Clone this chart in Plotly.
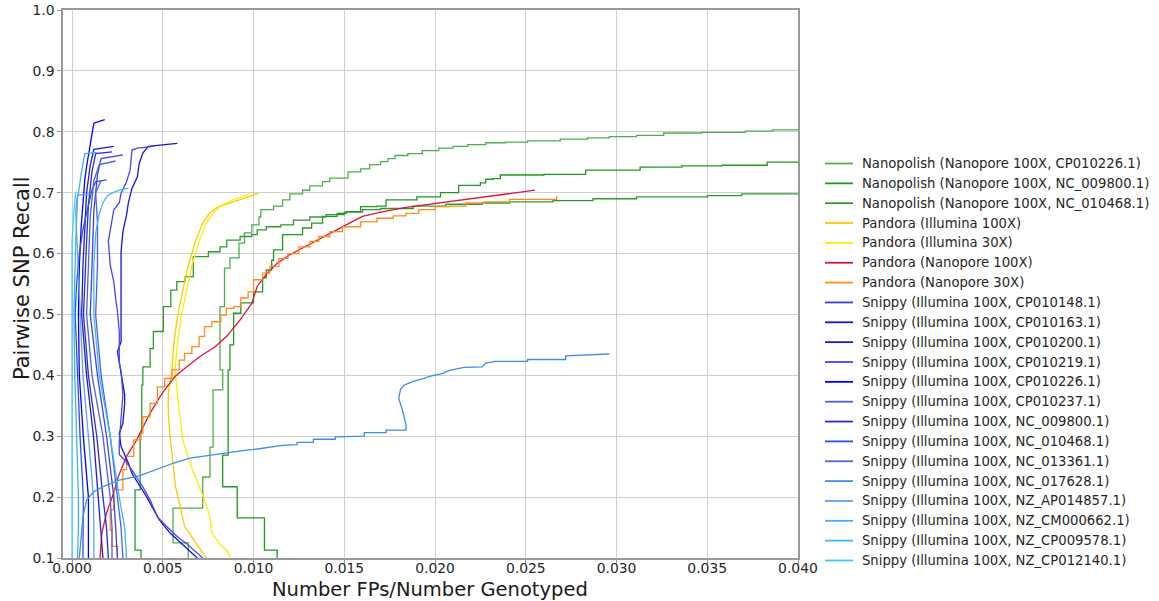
import plotly.graph_objects as go

# ---------------- data ----------------
# Nanopolish
nano_cp010226_x = [0.0402,0.0386,0.0371,0.0347,0.0326,0.0311,0.0296,0.0284,0.0269,0.0251,0.0239,0.0228,0.0218,0.0210,0.0202,0.0193,0.0185,0.0178,0.0174,0.0170,0.0164,0.0159,0.0152,0.0142,0.0138,0.0131,0.0127,0.0120,0.0116,0.0111,0.0104,0.0103,0.0099,0.0095,0.0092,0.0087,0.0084,0.00815,0.0083,0.00777,0.0076,0.0072,0.00556,0.0064]
nano_cp010226_y = [0.803,0.801,0.799,0.798,0.794,0.792,0.790,0.788,0.785,0.783,0.782,0.779,0.776,0.773,0.769,0.764,0.761,0.756,0.751,0.746,0.739,0.734,0.724,0.718,0.711,0.704,0.698,0.688,0.678,0.672,0.660,0.647,0.634,0.617,0.593,0.576,0.513,0.409,0.376,0.282,0.233,0.182,0.125,0.100]

nano_nc009800_x = [0.0402,0.0383,0.0358,0.0336,0.0313,0.0283,0.0260,0.0236,0.0232,0.0228,0.0225,0.0213,0.0203,0.0190,0.0173,0.0168,0.0159,0.0151,0.0146,0.0138,0.0132,0.0127,0.0116,0.0111,0.0110,0.0107,0.0105,0.0100,0.0093,0.0089,0.0087,0.0086,0.0083,0.0091,0.0106,0.0113]
nano_nc009800_y = [0.750,0.745,0.744,0.742,0.737,0.730,0.729,0.723,0.722,0.716,0.712,0.700,0.693,0.688,0.678,0.677,0.669,0.666,0.661,0.650,0.642,0.631,0.606,0.589,0.573,0.560,0.537,0.519,0.502,0.450,0.409,0.269,0.217,0.166,0.113,0.100]

nano_nc010468_x = [0.0402,0.0369,0.0350,0.0311,0.0287,0.0265,0.0241,0.0226,0.0206,0.0188,0.0170,0.0160,0.0150,0.0140,0.0131,0.0122,0.0115,0.0107,0.0102,0.0099,0.00926,0.00852,0.00815,0.00751,0.00668,0.00623,0.00577,0.00544,0.00503,0.00448,0.0043,0.0039,0.00384,0.00375,0.00347,0.0038]
nano_nc010468_y = [0.698,0.695,0.693,0.690,0.687,0.685,0.683,0.681,0.678,0.674,0.672,0.668,0.664,0.660,0.655,0.647,0.644,0.639,0.631,0.628,0.622,0.611,0.603,0.595,0.562,0.554,0.540,0.513,0.472,0.444,0.414,0.384,0.305,0.212,0.113,0.100]

# Pandora
pan_ill100_x = [0.01027,0.0094,0.0086,0.0080,0.0076,0.0072,0.0068,0.0064,0.0061,0.0058,0.0056,0.0055,0.0053,0.0053,0.0054,0.0055,0.0057,0.0060,0.0062,0.0067,0.0071,0.0074]
pan_ill100_y = [0.699,0.690,0.683,0.676,0.667,0.650,0.620,0.580,0.540,0.495,0.450,0.409,0.370,0.338,0.300,0.272,0.217,0.179,0.152,0.130,0.113,0.100]

pan_ill30_x = [0.0098,0.0090,0.0083,0.0078,0.0074,0.0070,0.0066,0.0063,0.0060,0.0058,0.00567,0.00586,0.0061,0.0065,0.0070,0.0073,0.0076,0.0077,0.0081,0.0086,0.0087]
pan_ill30_y = [0.698,0.690,0.680,0.668,0.650,0.620,0.580,0.540,0.495,0.450,0.409,0.354,0.294,0.256,0.217,0.195,0.168,0.141,0.124,0.110,0.100]

pan_nan100_x = [0.0255,0.0240,0.0225,0.0210,0.0197,0.0184,0.0170,0.0160,0.0151,0.0142,0.0135,0.0128,0.0120,0.0113,0.0107,0.0102,0.0099,0.00926,0.00852,0.00788,0.00705,0.00632,0.00567,0.0051,0.00485,0.0043,0.00356,0.0030,0.00255,0.00228,0.0019,0.00164,0.00154,0.00154]
pan_nan100_y = [0.704,0.698,0.692,0.686,0.681,0.676,0.668,0.661,0.647,0.633,0.622,0.611,0.598,0.584,0.566,0.546,0.518,0.491,0.464,0.447,0.431,0.414,0.398,0.376,0.365,0.338,0.294,0.267,0.234,0.206,0.174,0.141,0.102,0.100]

pan_nan30_x = [0.0267,0.0267,0.0241,0.0227,0.0217,0.0208,0.0200,0.0191,0.0184,0.0177,0.0168,0.0159,0.0149,0.0142,0.0136,0.0131,0.0125,0.0119,0.0114,0.0109,0.0105,0.0100,0.0097,0.0093,0.0089,0.0085,0.0082,0.0077,0.0073,0.0070,0.0066,0.0062,0.0059,0.0055,0.0051,0.0047,0.0043,0.0039,0.0038,0.0034,0.0030,0.0028,0.0023,0.0021,0.0022,0.0025]
pan_nan30_y = [0.695,0.689,0.685,0.683,0.678,0.677,0.672,0.666,0.662,0.658,0.652,0.644,0.636,0.628,0.620,0.611,0.600,0.592,0.579,0.568,0.557,0.537,0.527,0.513,0.510,0.499,0.488,0.480,0.464,0.447,0.436,0.425,0.409,0.395,0.381,0.354,0.332,0.305,0.294,0.267,0.245,0.212,0.179,0.146,0.119,0.100]

# Snippy
sn_cp010148_x = [0.0028,0.0016,0.0014,0.0012,0.0011,0.0010,0.0014,0.0019,0.0023,0.0024,0.0025]
sn_cp010148_y = [0.762,0.756,0.730,0.670,0.580,0.500,0.400,0.300,0.200,0.150,0.100]

sn_cp010163_x = [0.0058,0.0048,0.0042,0.0039,0.0037,0.0036,0.0033,0.0031,0.0030,0.0028,0.0027,0.0027,0.0027,0.0027,0.0027,0.0025,0.0027,0.0029,0.0029,0.0028,0.0026,0.0027,0.0031,0.0033,0.0037,0.0041,0.0045,0.0048,0.0054,0.0058,0.0064,0.0069]
sn_cp010163_y = [0.781,0.778,0.776,0.765,0.748,0.726,0.707,0.683,0.663,0.636,0.603,0.554,0.521,0.483,0.455,0.439,0.406,0.368,0.354,0.321,0.305,0.283,0.256,0.239,0.220,0.201,0.179,0.163,0.141,0.130,0.113,0.100]

sn_cp010200_x = [0.0023,0.0012,0.0010,0.0008,0.0007,0.0006,0.00053,0.0008,0.00118,0.00145,0.0016,0.0017]
sn_cp010200_y = [0.776,0.771,0.745,0.700,0.640,0.580,0.500,0.400,0.300,0.200,0.150,0.100]

sn_cp010219_x = [0.0045,0.0036,0.0033,0.0032,0.0030,0.0027,0.0026,0.0023,0.0022,0.0021,0.0020,0.0021,0.0023,0.0024,0.0025,0.0026,0.0026,0.0026,0.0027,0.0028,0.0027,0.0026,0.0026,0.0029,0.0034,0.0039,0.0043,0.0047,0.0052,0.0058,0.0063,0.0068,0.0072]
sn_cp010219_y = [0.776,0.773,0.770,0.737,0.718,0.699,0.683,0.672,0.655,0.633,0.620,0.581,0.554,0.527,0.505,0.472,0.450,0.422,0.406,0.368,0.330,0.290,0.270,0.261,0.240,0.217,0.195,0.168,0.152,0.135,0.124,0.110,0.100]

sn_cp010226_x = [0.0018,0.0012,0.0011,0.0010,0.0008,0.0007,0.0006,0.0005,0.0004,0.00035,0.0004,0.00062,0.0009,0.0009,0.0009]
sn_cp010226_y = [0.820,0.814,0.797,0.781,0.743,0.721,0.688,0.644,0.580,0.500,0.400,0.300,0.200,0.150,0.100]

sn_cp010237_x = [0.0016,0.0013,0.0014,0.0014,0.0013,0.0016,0.0021,0.0025,0.0027,0.0028]
sn_cp010237_y = [0.720,0.700,0.650,0.580,0.500,0.400,0.300,0.200,0.150,0.100]

sn_nc009800_x = [0.0022,0.0013,0.0011,0.0009,0.0008,0.0007,0.00063,0.0009,0.00136,0.0017,0.0019,0.0020]
sn_nc009800_y = [0.767,0.764,0.735,0.680,0.620,0.560,0.500,0.400,0.300,0.200,0.150,0.100]

sn_nc010468_x = [0.0019,0.0013,0.0011,0.0009,0.0006,0.0004,0.00025,0.00017,0.0003,0.00044,0.00062,0.0006,0.0006]
sn_nc010468_y = [0.721,0.718,0.705,0.680,0.640,0.600,0.550,0.500,0.400,0.300,0.200,0.150,0.100]

sn_nc013361_x = [0.0024,0.0015,0.0012,0.0010,0.0009,0.0008,0.0011,0.0017,0.0021,0.0022,0.0022]
sn_nc013361_y = [0.752,0.746,0.720,0.660,0.580,0.500,0.400,0.300,0.200,0.150,0.100]

sn_nc017628_x = [0.0296,0.0283,0.0272,0.0272,0.0251,0.0251,0.0233,0.0228,0.0226,0.0216,0.0208,0.0204,0.0198,0.0193,0.0188,0.0183,0.0181,0.0180,0.0182,0.0184,0.0184,0.0173,0.0173,0.0161,0.0161,0.0145,0.0145,0.0133,0.0133,0.0124,0.0124,0.0116,0.0110,0.0102,0.0093,0.0083,0.0074,0.0065,0.0056,0.0048,0.0043,0.0037,0.0026,0.0017,0.0012,0.0008,0.0006,0.0005,0.0004]
sn_nc017628_y = [0.435,0.433,0.432,0.426,0.426,0.423,0.423,0.420,0.414,0.413,0.408,0.403,0.399,0.394,0.390,0.384,0.377,0.362,0.343,0.319,0.310,0.310,0.306,0.306,0.300,0.299,0.295,0.295,0.290,0.290,0.286,0.285,0.282,0.279,0.276,0.272,0.268,0.264,0.256,0.247,0.242,0.235,0.228,0.217,0.209,0.195,0.168,0.135,0.100]

sn_ap014857_x = [0.0010,0.0003,0.0002,0.0003,0.0004,0.00044,0.0006,0.0009,0.00118,0.0012,0.0012]
sn_ap014857_y = [0.698,0.696,0.670,0.600,0.550,0.500,0.400,0.300,0.200,0.150,0.100]

sn_cm000662_x = [0.0014,0.0007,0.0005,0.0003,0.0002,0.00015,0.0001,0.00015,0.00026,0.00035,0.00035,0.0003]
sn_cm000662_y = [0.766,0.764,0.730,0.690,0.620,0.550,0.500,0.400,0.300,0.200,0.150,0.100]

sn_cp009578_x = [0.0031,0.0026,0.0021,0.0019,0.0017,0.0015,0.0013,0.0012,0.0012,0.0015,0.0021,0.0026,0.0029,0.0030]
sn_cp009578_y = [0.707,0.704,0.698,0.693,0.683,0.666,0.633,0.580,0.500,0.400,0.300,0.200,0.150,0.100]

sn_cp012140_x = [0.0002,0.0001,0.0000,0.0000,0.0000,0.0000,0.00002,0.00004,0.00003,0.0000]
sn_cp012140_y = [0.700,0.670,0.620,0.550,0.500,0.400,0.300,0.200,0.150,0.100]

x_ticks = [0.000,0.005,0.010,0.015,0.020,0.025,0.030,0.035,0.040]
y_ticks = [0.1,0.2,0.3,0.4,0.5,0.6,0.7,0.8,0.9,1.0]

series = [
    ("Nanopolish (Nanopore 100X, CP010226.1)", nano_cp010226_x, nano_cp010226_y, "#4fae4f", "hv"),
    ("Nanopolish (Nanopore 100X, NC_009800.1)", nano_nc009800_x, nano_nc009800_y, "#1f9a1f", "hv"),
    ("Nanopolish (Nanopore 100X, NC_010468.1)", nano_nc010468_x, nano_nc010468_y, "#2e9a2e", "hv"),
    ("Pandora (Illumina 100X)", pan_ill100_x, pan_ill100_y, "#ffc800", "linear"),
    ("Pandora (Illumina 30X)", pan_ill30_x, pan_ill30_y, "#f8f000", "linear"),
    ("Pandora (Nanopore 100X)", pan_nan100_x, pan_nan100_y, "#dc143c", "linear"),
    ("Pandora (Nanopore 30X)", pan_nan30_x, pan_nan30_y, "#ff8c1a", "hv"),
    ("Snippy (Illumina 100X, CP010148.1)", sn_cp010148_x, sn_cp010148_y, "#4040e0", "linear"),
    ("Snippy (Illumina 100X, CP010163.1)", sn_cp010163_x, sn_cp010163_y, "#1414d4", "linear"),
    ("Snippy (Illumina 100X, CP010200.1)", sn_cp010200_x, sn_cp010200_y, "#1e1eb4", "linear"),
    ("Snippy (Illumina 100X, CP010219.1)", sn_cp010219_x, sn_cp010219_y, "#4646ec", "linear"),
    ("Snippy (Illumina 100X, CP010226.1)", sn_cp010226_x, sn_cp010226_y, "#0000ff", "linear"),
    ("Snippy (Illumina 100X, CP010237.1)", sn_cp010237_x, sn_cp010237_y, "#4a5ef2", "linear"),
    ("Snippy (Illumina 100X, NC_009800.1)", sn_nc009800_x, sn_nc009800_y, "#2a2ac8", "linear"),
    ("Snippy (Illumina 100X, NC_010468.1)", sn_nc010468_x, sn_nc010468_y, "#2a4ee8", "linear"),
    ("Snippy (Illumina 100X, NC_013361.1)", sn_nc013361_x, sn_nc013361_y, "#4a66d6", "linear"),
    ("Snippy (Illumina 100X, NC_017628.1)", sn_nc017628_x, sn_nc017628_y, "#3f8de8", "linear"),
    ("Snippy (Illumina 100X, NZ_AP014857.1)", sn_ap014857_x, sn_ap014857_y, "#58a4ee", "linear"),
    ("Snippy (Illumina 100X, NZ_CM000662.1)", sn_cm000662_x, sn_cm000662_y, "#48aef0", "linear"),
    ("Snippy (Illumina 100X, NZ_CP009578.1)", sn_cp009578_x, sn_cp009578_y, "#3cb8f8", "linear"),
    ("Snippy (Illumina 100X, NZ_CP012140.1)", sn_cp012140_x, sn_cp012140_y, "#40c8ff", "linear"),
]

W, H = 1159, 601
ML, MR, MT, MB = 63, 361, 10, 43
PW, PH = W - ML - MR, H - MT - MB

def px_to_paper_x(px):
    return (px - ML) / PW

def px_to_paper_y(py):
    return 1 - (py - MT) / PH

fig = go.Figure()
for name, xs, ys, color, shape in series:
    fig.add_trace(go.Scatter(x=xs, y=ys, mode="lines", name=name, showlegend=False,
                             line=dict(color=color, width=1.3, shape=shape)))

# legend drawn as text + line samples (matplotlib-like spacing)
annotations = []
shapes = []
leg_top, leg_step = 163.5, 19.85
for i, (name, xs, ys, color, shape) in enumerate(series):
    yc = px_to_paper_y(leg_top + i * leg_step)
    shapes.append(dict(type="line", xref="paper", yref="paper",
                       x0=px_to_paper_x(825), x1=px_to_paper_x(853), y0=yc, y1=yc,
                       line=dict(color=color, width=1.8)))
    annotations.append(dict(text=name, xref="paper", yref="paper", showarrow=False,
                            x=px_to_paper_x(860), y=yc, xanchor="left", yanchor="middle",
                            font=dict(family="DejaVu Sans", size=13.2, color="#262626")))

# axis titles
annotations.append(dict(text="Number FPs/Number Genotyped", xref="paper", yref="paper",
                        showarrow=False, x=px_to_paper_x(430), y=px_to_paper_y(589),
                        xanchor="center", yanchor="middle", borderpad=0,
                        font=dict(family="DejaVu Sans", size=19.5, color="#1a1a1a")))
annotations.append(dict(text="Pairwise SNP Recall", xref="paper", yref="paper",
                        showarrow=False, x=px_to_paper_x(22), y=px_to_paper_y(278),
                        xanchor="center", yanchor="middle", textangle=-90,
                        font=dict(family="DejaVu Sans", size=21, color="#1a1a1a")))

axis_common = dict(showgrid=True, gridcolor="#cfcfcf", gridwidth=1, zeroline=False,
                   showline=True, linecolor="#999999", linewidth=1.5, mirror=True,
                   ticks="outside", ticklen=4, tickcolor="#999999", automargin=False,
                   tickfont=dict(family="DejaVu Sans", size=13.9, color="#262626"))

fig.update_layout(
    width=W, height=H,
    margin=dict(l=ML, r=MR, t=MT, b=MB, autoexpand=False),
    paper_bgcolor="white", plot_bgcolor="white",
    font=dict(family="DejaVu Sans", color="#262626"),
    showlegend=False,
    annotations=annotations,
    shapes=shapes,
    xaxis=dict(range=[-0.0005, 0.040], tickvals=x_ticks, tickformat=".3f",
               ticklabelstandoff=-7, **axis_common),
    yaxis=dict(range=[0.1, 1.0], tickvals=y_ticks, tickformat=".1f", **axis_common),
)

fig.write_html("out.html", config={"displayModeBar": False},
               post_script="document.body.style.margin='0px';")
